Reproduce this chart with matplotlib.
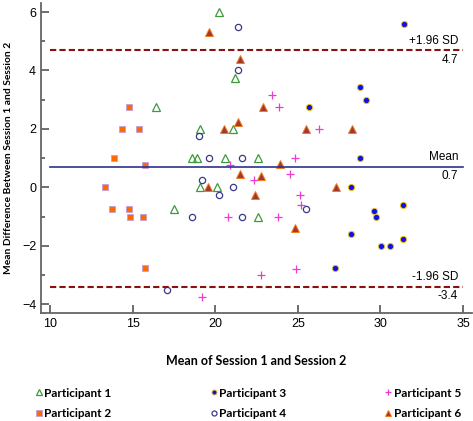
import matplotlib.pyplot as plt
from matplotlib.ticker import MultipleLocator

# Bland-Altman data (x = mean of sessions, y = difference)
p1_x = [20.2, 16.4, 21.2, 19.1, 21.1, 18.6, 18.9, 20.6, 22.6, 19.1, 20.1, 22.6, 17.5]
p1_y = [6.0, 2.75, 3.75, 2.0, 2.0, 1.0, 1.0, 1.0, 1.0, 0.0, 0.0, -1.0, -0.75]

p2_x = [14.75, 14.35, 15.4, 13.85, 15.75, 13.35, 13.75, 14.75, 14.85, 15.6, 15.75]
p2_y = [2.75, 2.0, 2.0, 1.0, 0.75, 0.0, -0.75, -0.75, -1.0, -1.0, -2.75]

p3_x = [31.45, 28.75, 29.15, 25.7, 28.75, 28.2, 29.6, 29.75, 31.35, 28.2, 30.05, 30.6, 31.35, 27.25]
p3_y = [5.6, 3.45, 3.0, 2.75, 1.0, 0.0, -0.8, -1.0, -0.6, -1.6, -2.0, -2.0, -1.75, -2.75]

p4_x = [21.35, 21.35, 19.0, 19.6, 21.6, 19.2, 20.25, 21.1, 25.5, 18.6, 21.6, 17.1]
p4_y = [5.5, 4.0, 1.75, 1.0, 1.0, 0.25, -0.25, 0.0, -0.75, -1.0, -1.0, -3.5]

p5_x = [23.45, 23.85, 26.3, 24.8, 20.9, 24.55, 22.35, 25.15, 25.2, 20.8, 23.8, 24.9, 22.75, 19.2]
p5_y = [3.15, 2.75, 2.0, 1.0, 0.75, 0.45, 0.25, -0.25, -0.6, -1.0, -1.0, -2.8, -3.0, -3.75]

p6_x = [19.6, 21.5, 22.9, 21.4, 20.5, 25.5, 28.3, 23.9, 21.5, 22.75, 19.55, 22.4, 24.8, 27.3]
p6_y = [5.3, 4.4, 2.75, 2.25, 2.0, 2.0, 2.0, 0.8, 0.45, 0.4, 0.0, -0.25, -1.4, 0.0]

mean_diff = 0.7
upper_loa = 4.7
lower_loa = -3.4

fig = plt.figure(figsize=(4.73, 4.21), dpi=100)
ax = fig.add_axes([0.0867, 0.257, 0.9113, 0.736])

ax.plot(p1_x, p1_y, ls='none', marker='^', ms=5.5, mfc='none', mec='#3c9a3c', mew=0.9, label='Participant 1')
ax.plot(p2_x, p2_y, ls='none', marker='s', ms=4.8, mfc='#ff6a00', mec='#c9a3cf', mew=0.7, label='Participant 2')
ax.plot(p3_x, p3_y, ls='none', marker='o', ms=4.5, mfc='#0a14e6', mec='#f0c020', mew=0.7, label='Participant 3')
ax.plot(p4_x, p4_y, ls='none', marker='o', ms=4.5, mfc='none', mec='#3a3a8a', mew=0.9, label='Participant 4')
ax.plot(p5_x, p5_y, ls='none', marker='+', ms=5.5, mec='#ee3ad0', mew=0.9, label='Participant 5')
ax.plot(p6_x, p6_y, ls='none', marker='^', ms=6, mfc='#a23a2c', mec='#f07a20', mew=0.7, label='Participant 6')

ax.plot([10, 35], [mean_diff, mean_diff], color='#2e3192', lw=1.2)
ax.plot([10, 35], [upper_loa, upper_loa], color='#8b1010', lw=1.5, ls=(0, (3, 1.5)))
ax.plot([10, 35], [lower_loa, lower_loa], color='#8b1010', lw=1.5, ls=(0, (3, 1.5)))

txt = dict(ha='right', fontsize=8.5, family='Liberation Sans')
ax.text(34.7, upper_loa + 0.12, '+1.96 SD', va='bottom', **txt)
ax.text(34.7, upper_loa - 0.12, '%.1f' % upper_loa, va='top', **txt)
ax.text(34.7, mean_diff + 0.12, 'Mean', va='bottom', **txt)
ax.text(34.7, mean_diff - 0.12, '%.1f' % mean_diff, va='top', **txt)
ax.text(34.7, lower_loa + 0.12, '-1.96 SD', va='bottom', **txt)
ax.text(34.7, lower_loa - 0.12, '%.1f' % lower_loa, va='top', **txt)

ax.set_xlim(9.45, 35.55)
ax.set_ylim(-4.29, 6.31)
ax.xaxis.set_major_locator(MultipleLocator(5))
ax.yaxis.set_major_locator(MultipleLocator(2))
ax.yaxis.set_minor_locator(MultipleLocator(1))
ax.tick_params(direction='in', colors='#555555', labelcolor='black', labelsize=9, width=1.2)
ax.tick_params(axis='y', which='major', length=6)
ax.tick_params(axis='y', which='minor', direction='in', length=3, width=1.2, color='#555555')
ax.tick_params(axis='x', which='major', length=6)
for lab in ax.get_xticklabels() + ax.get_yticklabels():
    lab.set_family('Liberation Sans')

for s in ['top', 'right']:
    ax.spines[s].set_visible(False)
for s in ['left', 'bottom']:
    ax.spines[s].set_color('#666666')
    ax.spines[s].set_linewidth(1.3)

ax.set_xlabel('Mean of Session 1 and Session 2', fontsize=9, fontweight='bold', family='Lato')
ax.xaxis.set_label_coords(0.5, -0.135)
ax.set_ylabel('Mean Difference Between Session 1 and Session 2', fontsize=7.4, fontweight='bold',
              family='Lato')
ax.yaxis.set_label_coords(-0.066, 0.5)

fig.legend(loc='lower left', bbox_to_anchor=(28 / 473, -0.012, 440 / 473, 0.09), mode='expand', ncol=3,
           frameon=False, markerscale=0.8, handlelength=0.6, handletextpad=0.15,
           prop={'family': 'Lato', 'weight': 'bold', 'size': 8.5}, labelspacing=0.8, borderaxespad=0.2)

fig.savefig('out.png', dpi=100)
